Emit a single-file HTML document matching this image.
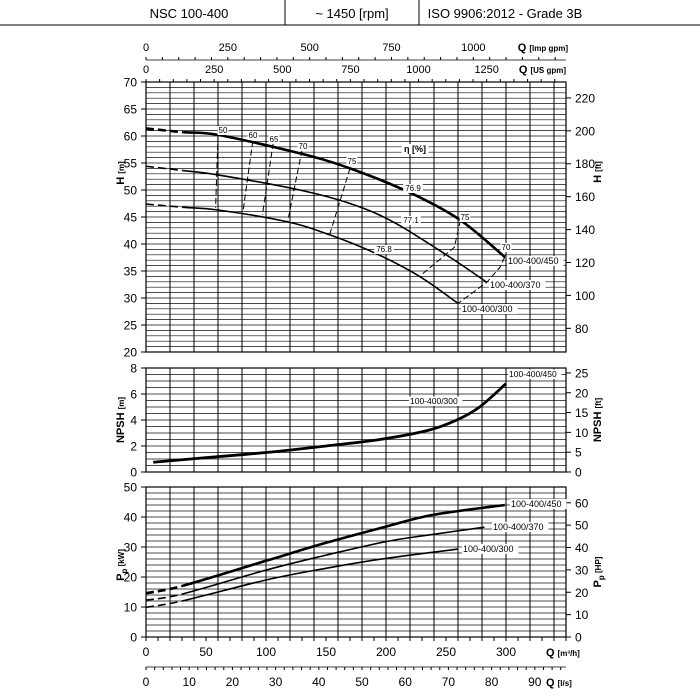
<!DOCTYPE html>
<html><head><meta charset="utf-8"><style>
html,body{margin:0;padding:0;background:#fff;}
svg{display:block;font-family:"Liberation Sans",sans-serif;}
</style></head><body>
<svg id="c" width="700" height="700" viewBox="0 0 700 700">
<g>
<line x1="0" y1="25" x2="700" y2="25" stroke="#000" stroke-width="1"/>
<line x1="285" y1="0" x2="285" y2="25" stroke="#000" stroke-width="1"/>
<line x1="419" y1="0" x2="419" y2="25" stroke="#000" stroke-width="1"/>
<text x="189" y="18" font-size="13" text-anchor="middle">NSC 100-400</text>
<text x="352" y="18" font-size="13" text-anchor="middle">~ 1450 [rpm]</text>
<text x="505" y="18" font-size="13" text-anchor="middle">ISO 9906:2012 - Grade 3B</text>
</g>
</svg>
<script>
// ===== data =====
const qTicks = [0,50,100,150,200,250,300];
const impTicks = [0,250,500,750,1000];
const usTicks = [0,250,500,750,1000,1250];
const lsTicks = [0,10,20,30,40,50,60,70,80,90];
const hTicks = [20,25,30,35,40,45,50,55,60,65,70];
const hFtTicks = [80,100,120,140,160,180,200,220];
const npshTicks = [0,2,4,6,8];
const npshFtTicks = [0,5,10,15,20,25];
const pTicks = [0,10,20,30,40,50];
const pHpTicks = [0,10,20,30,40,50,60];

const h450Q = [0,31,60,128,170,221,262,299];
const h450H = [61.4,60.7,60.2,56.8,54.0,49.4,44.4,37.6];
const h370Q = [0,31,60,128,170,206,253,284];
const h370H = [54.4,53.6,52.8,50.0,47.5,44.1,37.6,32.9];
const h300Q = [0,31,60,118,153,191,228,260];
const h300H = [47.4,46.8,46.3,44.1,41.7,38.3,34.0,29.0];

const effNames = ["50","60","65","70","75"];
const effTopQ = [60,89,106,130,170];
const effTopH = [60.2,59.1,58.7,57.4,54.0];
const effBotQ = [58,81,97,118,153];
const effBotH = [46.7,46.3,45.4,44.1,41.7];
const eff75rQ = [262,257,228];
const eff75rH = [44.4,39.4,34.0];
const eff70rQ = [299,295,284,260];
const eff70rH = [37.6,35.7,32.9,29.0];

const npshQ = [6,50,100,150,195,235,259,278,300];
const npshV = [0.75,1.1,1.5,2.0,2.5,3.2,4.0,5.0,6.8];

const p450Q = [0,30,100,150,200,239,299];
const p450V = [14.6,17.0,25.4,31.4,36.8,40.7,44.0];
const p370Q = [0,30,100,150,200,239,282];
const p370V = [12.3,14.3,22.3,27.3,31.8,34.2,36.6];
const p300Q = [0,30,100,150,200,260];
const p300V = [9.9,12.0,19.0,22.9,26.2,29.3];

// ===== scales =====
const X0=146, X1=566, QMAX=350;
const X = q => X0 + q*(X1-X0)/QMAX;
const HY = h => 82 + (70-h)*5.4;
const NY = n => 472 - n*13;
const PY = p => 637 - p*3;

const svg = document.getElementById('c');
const NS='http://www.w3.org/2000/svg';
function mk(tag, attrs, parent){const e=document.createElementNS(NS,tag);for(const k in attrs)e.setAttribute(k,attrs[k]);(parent||svg).appendChild(e);return e;}
function txt(x,y,s,size,anchor,parent,extra){const t=mk('text',Object.assign({x:x,y:y,'font-size':size,'text-anchor':anchor||'middle'},extra||{}),parent);t.textContent=s;return t;}

function panel(name, yTop, yBot, vmin, vmax, step, Y){
  const g = mk('g',{});
  
  
  for(let v=vmin; v<=vmax+1e-9; v+=step){
    mk('line',{x1:X0,x2:X1,y1:Y(v),y2:Y(v),stroke:'#111','stroke-width':0.7},g);
  }
  for(let q=0; q<=340; q+=20){
    mk('line',{x1:X(q),x2:X(q),y1:yTop,y2:yBot,stroke:'#000','stroke-width':1},g);
  }
  mk('rect',{x:X0,y:yTop,width:X1-X0,height:yBot-yTop,fill:'none',stroke:'#000','stroke-width':1.2},g);
  return g;
}
const gH = panel('head-grid',82,352,20,70,1,HY);
const gN = panel('npsh-grid',368,472,0,8,0.5,NY);
const gP = panel('power-grid',487,637,0,50,2,PY);

function yAxis(name, ticks, Y, side, conv){
  const g = mk('g',{});
  
  
  ticks.forEach(t=>{
    const v = conv?conv(t):t; const y=Y(v);
    if(side==='L'){mk('line',{x1:X0-5,x2:X0,y1:y,y2:y,stroke:'#000'},g);txt(X0-9,y+4.5,String(t),12,'end',g);}
    else{mk('line',{x1:X1,x2:X1+5,y1:y,y2:y,stroke:'#000'},g);txt(X1+9,y+4.5,String(t),12,'start',g);}
  });
}
yAxis('h-axis-left',hTicks,HY,'L');
yAxis('h-axis-right-ft',hFtTicks,HY,'R',t=>t*0.3048);
yAxis('npsh-axis-left',npshTicks,NY,'L');
yAxis('npsh-axis-right-ft',npshFtTicks,NY,'R',t=>t*0.3048);
yAxis('power-axis-left',pTicks,PY,'L');
yAxis('power-axis-right-hp',pHpTicks,PY,'R',t=>t*0.7457);

// top axes
const gT = mk('g',{});


mk('line',{x1:X0,x2:X1,y1:60,y2:60,stroke:'#000','stroke-width':0.8},gT);
for(let g=0; g*0.27277<=QMAX; g+=50){const x=X(g*0.27277);mk('line',{x1:x,x2:x,y1:57,y2:60,stroke:'#000'},gT);}
impTicks.forEach(t=>txt(X(t*0.27277),51,String(t),11,'middle',gT));
txt(X1+2,51,'Q',11,'end',gT,{'font-weight':'bold'}).innerHTML='Q <tspan font-size="8">[Imp gpm]</tspan>';
for(let g=0; g*0.22712<=QMAX; g+=50){const x=X(g*0.22712);mk('line',{x1:x,x2:x,y1:79,y2:82,stroke:'#000'},gT);}
usTicks.forEach(t=>txt(X(t*0.22712),73,String(t),11,'middle',gT));
txt(X1,73,'Q',11,'end',gT,{'font-weight':'bold'}).innerHTML='Q <tspan font-size="8">[US gpm]</tspan>';

// bottom axes
const gB = mk('g',{});


for(let q=0;q<=QMAX;q+=10){mk('line',{x1:X(q),x2:X(q),y1:637,y2:641,stroke:'#000'},gB);}
qTicks.forEach(t=>txt(X(t),656,String(t),12,'middle',gB));
txt(546,656,'Q',11,'start',gB,{'font-weight':'bold'}).innerHTML='Q <tspan font-size="8">[m³/h]</tspan>';
mk('line',{x1:X0,x2:X1,y1:667,y2:667,stroke:'#000','stroke-width':0.8},gB);
for(let l=0;l*3.6<=QMAX;l+=2){mk('line',{x1:X(l*3.6),x2:X(l*3.6),y1:667,y2:670,stroke:'#000'},gB);}
lsTicks.forEach(t=>txt(X(t*3.6),686,String(t),12,'middle',gB));
txt(546,686,'Q',11,'start',gB,{'font-weight':'bold'}).innerHTML='Q <tspan font-size="8">[l/s]</tspan>';

function vtitle(name,x,y,html){
  const t=mk('text',{x:0,y:0,'font-size':11,'font-weight':'bold','text-anchor':'middle',transform:`translate(${x},${y}) rotate(-90)`});
  
  
  t.innerHTML=html;
}
vtitle('h-axis-title',124,173,'H <tspan font-size="8">[m]</tspan>');
vtitle('h-ft-axis-title',601,172,'H <tspan font-size="8">[ft]</tspan>');
vtitle('npsh-axis-title',124,420,'NPSH <tspan font-size="8">[m]</tspan>');
vtitle('npsh-ft-axis-title',601,420,'NPSH <tspan font-size="8">[ft]</tspan>');
vtitle('power-axis-title',124,565,'P<tspan font-size="8" dy="3">p</tspan><tspan font-size="8" dy="-3"> [kW]</tspan>');
vtitle('power-hp-axis-title',601,572,'P<tspan font-size="8" dy="3">p</tspan><tspan font-size="8" dy="-3"> [HP]</tspan>');

function path(qs,vs,Y,from,to){
  let d='';
  for(let i=from;i<=to;i++){d+=(i===from?'M':'L')+X(qs[i]).toFixed(1)+','+Y(vs[i]).toFixed(1)+' ';}
  return d;
}
function curve(name,qs,vs,Y,w,dashN){
  const g=mk('g',{});
  
  
  const pts=qs.map((q,i)=>[X(q),Y(vs[i])]);
  function seg(a,b){let d='M'+pts[a][0]+','+pts[a][1];
    for(let i=a;i<b;i++){const p0=pts[Math.max(i-1,0)],p1=pts[i],p2=pts[i+1],p3=pts[Math.min(i+2,pts.length-1)];
      const c1=[p1[0]+(p2[0]-p0[0])/6,p1[1]+(p2[1]-p0[1])/6],c2=[p2[0]-(p3[0]-p1[0])/6,p2[1]-(p3[1]-p1[1])/6];
      d+=` C${c1[0].toFixed(1)},${c1[1].toFixed(1)} ${c2[0].toFixed(1)},${c2[1].toFixed(1)} ${p2[0].toFixed(1)},${p2[1].toFixed(1)}`;}
    return d;}
  if(dashN>0) mk('path',{d:seg(0,dashN),fill:'none',stroke:'#000','stroke-width':w,'stroke-dasharray':'8,4'},g);
  mk('path',{d:seg(dashN,pts.length-1),fill:'none',stroke:'#000','stroke-width':w},g);
  return g;
}
curve('head-curve-450',h450Q,h450H,HY,2.6,1);
curve('head-curve-370',h370Q,h370H,HY,1.6,1);
curve('head-curve-300',h300Q,h300H,HY,1.6,1);

const gE=mk('g',{});


effNames.forEach((n,i)=>{
  mk('line',{x1:X(effTopQ[i]),y1:HY(effTopH[i]),x2:X(effBotQ[i]),y2:HY(effBotH[i]),stroke:'#000','stroke-width':1,'stroke-dasharray':'6,3'},gE);
});
mk('path',{d:path(eff75rQ,eff75rH,HY,0,eff75rQ.length-1),fill:'none',stroke:'#000','stroke-width':1,'stroke-dasharray':'6,3'},gE);
mk('path',{d:path(eff70rQ,eff70rH,HY,0,eff70rQ.length-1),fill:'none',stroke:'#000','stroke-width':1,'stroke-dasharray':'6,3'},gE);

function lab(name,x,y,s,size,anchor,bold){
  const w=s.length*size*0.55+2;
  const ax = anchor==='start'?x-1:x-w/2;
  mk('rect',{x:ax,y:y-size+1,width:w,height:size+1,fill:'#fff'});
  const t=txt(x,y,s,size,anchor||'middle',svg,bold?{'font-weight':'bold'}:{});
  
  
}
lab('eff-label-50',223,133,'50',8);
lab('eff-label-60',253,138,'60',8);
lab('eff-label-65',274,142,'65',8);
lab('eff-label-70',303,149,'70',8);
lab('eff-label-75',352,164,'75',8);
lab('eff-label-76-9',413,191,'76.9',8);
lab('eff-label-77-1',411,223,'77.1',8);
lab('eff-label-76-8',384,252,'76.8',8);
lab('eff-label-75-right',465,220,'75',8);
lab('eff-label-70-right',506,250,'70',8);
lab('eta-label',415,152,'η [%]',9,'middle',true);
lab('head-label-450',508,264,'100-400/450',9,'start');
lab('head-label-370',490,288,'100-400/370',9,'start');
lab('head-label-300',462,312,'100-400/300',9,'start');

curve('npsh-curve',npshQ,npshV,NY,2.8,0);
lab('npsh-label-450',509,377,'100-400/450',8.5,'start');
lab('npsh-label-300',410,404,'100-400/300',8.5,'start');

curve('power-curve-450',p450Q,p450V,PY,2.6,1);
curve('power-curve-370',p370Q,p370V,PY,1.6,1);
curve('power-curve-300',p300Q,p300V,PY,1.6,1);
lab('power-label-450',511,507,'100-400/450',9,'start');
lab('power-label-370',493,530,'100-400/370',9,'start');
lab('power-label-300',463,552,'100-400/300',9,'start');
</script>
</body></html>
